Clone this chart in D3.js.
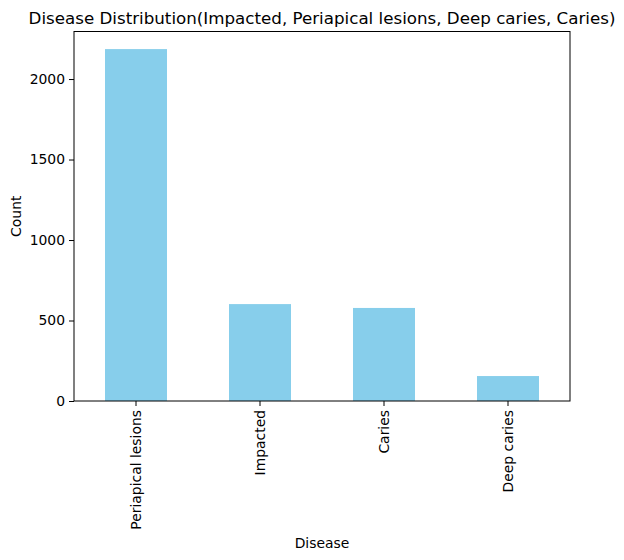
<!DOCTYPE html>
<html><head><meta charset="utf-8">
<script src="https://cdn.jsdelivr.net/npm/d3@7"></script>
<style>body{margin:0;background:#fff}svg{display:block}text{font-family:"DejaVu Sans",sans-serif;fill:#000}</style>
</head><body><svg id="c" width="624" height="560"></svg>
<script>
const categories = ["Periapical lesions", "Impacted", "Caries", "Deep caries"];
const counts = [2186, 602, 578, 155];
const yTicks = [0, 500, 1000, 1500, 2000];

const svg = d3.select("#c");
const m = {l:74, r:570, t:31.5, b:401};
const x = d3.scaleBand().domain(categories).range([m.l, m.r]).paddingInner(0.5).paddingOuter(0.25);
const y = d3.scaleLinear().domain([0, d3.max(counts) * 1.05]).range([m.b, m.t]);

svg.append("g").selectAll("rect").data(categories).join("rect")
  .attr("x", d => x(d)).attr("width", x.bandwidth())
  .attr("y", (d,i) => y(counts[i])).attr("height", (d,i) => m.b - y(counts[i]))
  .attr("fill", "#87ceeb");

const ya = svg.append("g").attr("transform", `translate(${m.l},0)`)
  .call(d3.axisLeft(y).tickValues(yTicks).tickSize(5).tickPadding(4).tickFormat(d3.format("d")));
ya.select(".domain").remove();
ya.selectAll("text").style("font-size", "13.9px").style("font-family", "DejaVu Sans");
ya.selectAll("line").attr("stroke", "#000");

const xa = svg.append("g").attr("transform", `translate(0,${m.b})`)
  .call(d3.axisBottom(x).tickSize(5).tickPadding(4));
xa.select(".domain").remove();
xa.selectAll("line").attr("stroke", "#000");
xa.selectAll("text").style("font-size", "13.9px").style("font-family", "DejaVu Sans")
  .attr("transform", "rotate(-90)").attr("text-anchor", "end")
  .attr("x", -9).attr("y", 0).attr("dy", "0.35em");

svg.append("rect").attr("x", m.l).attr("y", m.t).attr("width", m.r - m.l).attr("height", m.b - m.t)
  .attr("fill", "none").attr("stroke", "#000").attr("stroke-width", 1);

svg.append("text").attr("x", (m.l + m.r) / 2).attr("y", m.t - 8).attr("text-anchor", "middle")
  .style("font-size", "16.7px").text("Disease Distribution(Impacted, Periapical lesions, Deep caries, Caries)");
svg.append("text").attr("x", (m.l + m.r) / 2).attr("y", 548).attr("text-anchor", "middle")
  .style("font-size", "13.9px").text("Disease");
svg.append("text").attr("transform", `translate(21,${(m.t + m.b) / 2}) rotate(-90)`).attr("text-anchor", "middle")
  .style("font-size", "13.9px").text("Count");
</script></body></html>
